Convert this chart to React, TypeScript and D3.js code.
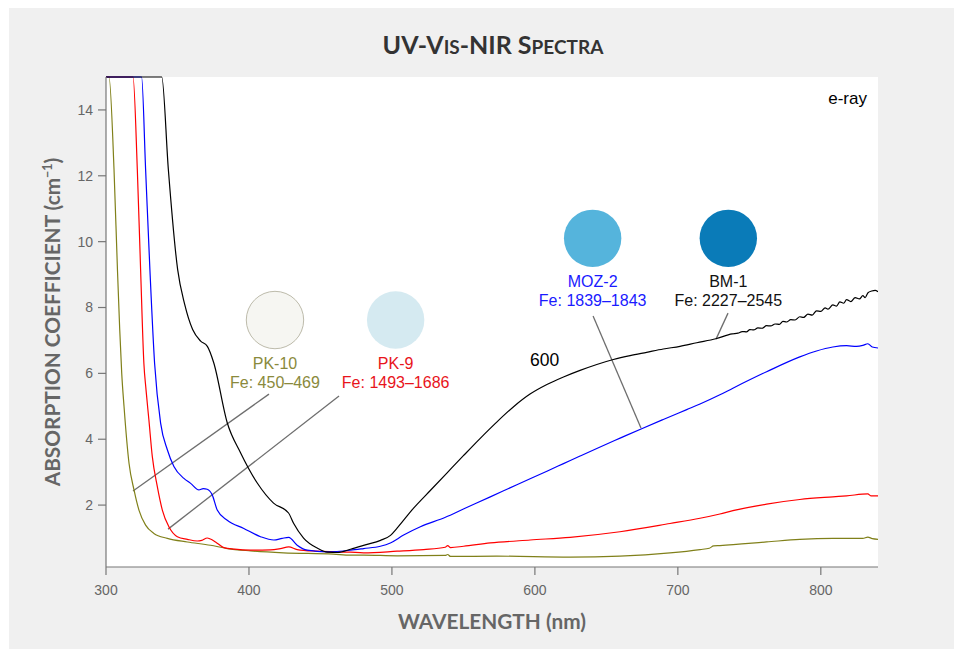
import React from "react";
import * as d3 from "d3";

// ---------- DATA ----------
const xTicks = [300, 400, 500, 600, 700, 800];
const yTicks = [2, 4, 6, 8, 10, 12, 14];

// BM-1 (black)
const bm1: [number, number][] = [
  [300, 15], [339, 15], [343.6, 12.2], [350.1, 9.16], [355, 8.1], [360.6, 7.33], [366.2, 6.98],
  [370.9, 6.82], [375.3, 6.33], [384.8, 4.5], [394.1, 3.59], [405.8, 2.67], [417.2, 2.06],
  [427.7, 1.76], [431.2, 1.45], [438.2, 1.0], [448, 0.69], [455, 0.57], [462, 0.56], [471, 0.66],
  [482, 0.8], [492, 0.93], [499, 1.08], [503.6, 1.3], [515, 1.9], [527, 2.45], [538.6, 2.98],
  [550, 3.5], [561.6, 4.02], [573.3, 4.52], [584.9, 4.98], [596.6, 5.37], [608.4, 5.66], [620, 5.89],
  [631.6, 6.09], [643.3, 6.27], [654.9, 6.42], [666.6, 6.54], [678.2, 6.64], [689.8, 6.74],
  [701.5, 6.82], [713.2, 6.93], [726.6, 7.05], [738, 7.2], [742, 7.22], [745, 7.27], [748, 7.26],
  [750.4, 7.33], [753, 7.32], [756, 7.38], [759, 7.37], [762, 7.45], [765, 7.44], [768, 7.5],
  [771, 7.49], [773.5, 7.58], [776, 7.56], [779, 7.63], [782, 7.62], [785.3, 7.72], [788, 7.7],
  [791, 7.8], [794, 7.77], [797, 7.9], [800, 7.88], [803, 7.99], [805, 7.95], [808.4, 8.08],
  [811, 8.04], [813.3, 8.17], [816, 8.13], [818, 8.24], [821, 8.18], [824, 8.3], [827, 8.26],
  [829.4, 8.36], [831, 8.3], [833, 8.45], [835.6, 8.5], [838, 8.52], [840, 8.48],
];

// MOZ-2 (blue)
const moz2: [number, number][] = [
  [300, 15], [324.9, 15], [327.7, 12.2], [330.7, 9.16], [334, 6.3], [338.2, 4.49], [342.9, 3.68],
  [347.5, 3.17], [354.5, 2.81], [359.2, 2.66], [365, 2.46], [368, 2.5], [370.8, 2.48], [374.3, 2.31],
  [377.8, 1.85], [384.8, 1.54], [396.4, 1.29], [408.1, 1.04], [417.4, 0.94], [423.2, 0.99],
  [427.8, 1.02], [433.7, 0.78], [440.7, 0.63], [454.7, 0.58], [471, 0.63], [480.2, 0.68],
  [491.9, 0.75], [498.9, 0.85], [508.2, 1.09], [519.9, 1.34], [537.4, 1.63], [550, 1.88],
  [568.8, 2.25], [587.4, 2.62], [608.4, 3.03], [620, 3.26], [631.6, 3.49], [643.3, 3.72],
  [660, 4.04], [674.7, 4.32], [689.8, 4.6], [706.2, 4.9], [715.5, 5.07], [729.4, 5.35],
  [738.5, 5.55], [762.1, 6.05], [785.3, 6.5], [797, 6.68], [808.4, 6.8], [818, 6.84], [825, 6.82],
  [829.4, 6.85], [832.9, 6.9], [836, 6.8], [840, 6.77],
];

// PK-9 (red)
const pk9: [number, number][] = [
  [300, 15], [318.9, 15], [321.9, 12.2], [324.2, 9.16], [326.5, 6.3], [328, 5.5], [330, 4.59],
  [332.4, 3.47], [335.9, 2.56], [339.4, 1.85], [344, 1.34], [349.9, 1.04], [356.9, 0.96],
  [363.9, 0.91], [367, 0.93], [370.8, 1.0], [373, 0.97], [376.6, 0.88], [382.4, 0.71], [390, 0.66],
  [401.1, 0.63], [415, 0.64], [422, 0.68], [427.8, 0.73], [433.7, 0.65], [447.7, 0.6], [471, 0.57],
  [480.2, 0.55], [503.6, 0.6], [522.2, 0.65], [537.3, 0.72], [539, 0.77], [541, 0.71],
  [550.1, 0.75], [568.8, 0.85], [596.7, 0.94], [624.6, 1.02], [659.5, 1.19], [694.5, 1.44],
  [715.5, 1.6], [729.4, 1.73], [738.5, 1.83], [762.1, 2.03], [785.3, 2.17], [808.4, 2.25],
  [818, 2.28], [832.9, 2.34], [835, 2.28], [840, 2.28],
];

// PK-10 (olive)
const pk10: [number, number][] = [
  [300, 15], [302.1, 15], [305.6, 12.2], [308, 9.16], [309.6, 7.33], [311, 6.0], [312.6, 5.0],
  [316.1, 3.27], [319.6, 2.46], [323.1, 1.84], [327.7, 1.39], [333.5, 1.14], [342.9, 0.99],
  [356.9, 0.88], [373.1, 0.78], [384.8, 0.68], [401.1, 0.61], [424.1, 0.55], [459.1, 0.51],
  [471, 0.48], [480.2, 0.48], [503.6, 0.46], [537.3, 0.47], [539, 0.5], [541, 0.44],
  [573.4, 0.45], [624.6, 0.42], [659.5, 0.45], [694.5, 0.55], [715.5, 0.65], [722, 0.69],
  [725, 0.76], [729.4, 0.77], [762.1, 0.88], [785.3, 0.96], [808.4, 0.99], [829.4, 0.99],
  [832.9, 1.03], [836, 0.98], [840, 0.96],
];

const seriesNames = ["PK-10", "PK-9", "MOZ-2", "BM-1"];
const seriesFe = ["Fe: 450–469", "Fe: 1493–1686", "Fe: 1839–1843", "Fe: 2227–2545"];
const seriesData = [pk10, pk9, moz2, bm1];
const seriesLine = ["#80801a", "#ff0000", "#0000ff", "#000000"];
const seriesText = ["#8a8a3c", "#e8141b", "#1a1aff", "#111111"];
const swatchFill = ["#f6f6f2", "#d5eaf1", "#55b4dc", "#0a7bb8"];
const swatchStroke = ["#bdbbab", "none", "none", "none"];
// swatch centres (data units)
const swatchPos: [number, number][] = [[418.2, 7.62], [502.6, 7.62], [640.4, 10.1], [735.3, 10.1]];
// leader lines (data units): from label to curve
const leaderFrom: [number, number][] = [[414.0, 5.37], [463.0, 5.31], [640.7, 7.74], [735.1, 7.83]];
const leaderTo: [number, number][] = [[318.9, 2.43], [343.4, 1.27], [674.2, 4.34], [726.7, 7.04]];

const noteText = ["600", "e-ray"];
const notePos: [number, number][] = [[596.6, 6.23], [832.3, 14.18]];

// ---------- LAYOUT ----------
const W = 954, H = 649;
const M = { left: 106, right: 878, top: 77, bottom: 567 };
const labelFont = "'Liberation Sans', Arial, sans-serif";
const titleFont = "Lato, 'Open Sans', sans-serif";

export default function App() {
  const x = d3.scaleLinear().domain([300, 840]).range([M.left, M.right]);
  const y = d3.scaleLinear().domain([0.12, 15]).range([M.bottom, M.top]);
  const line = d3
    .line<[number, number]>()
    .x((d) => x(d[0]))
    .y((d) => y(Math.min(15, d[1])))
    .curve(d3.curveMonotoneX);

  return (
    <svg
      width={W}
      height={H}
      style={{ position: "absolute", left: 0, top: 0, display: "block" }}
    >
      <rect x={9} y={8} width={W - 9} height={H - 8} fill="#f0f0f0" />
      <rect x={M.left} y={M.top} width={M.right - M.left} height={M.bottom - M.top} fill="#ffffff" />

      {/* title */}
      <text
        x={493}
        y={54}
        textAnchor="middle"
        fontFamily={titleFont}
        fontWeight={700}
        fontSize={25}
        fill="#333333"
      >
        <tspan>UV-V</tspan>
        <tspan fontSize={19}>IS</tspan>
        <tspan>-NIR S</tspan>
        <tspan fontSize={19}>PECTRA</tspan>
      </text>

      <defs>
        <clipPath id="plotclip">
          <rect x={M.left} y={M.top - 1} width={M.right - M.left} height={M.bottom - M.top + 1} />
        </clipPath>
      </defs>

      {/* leader lines */}
      {leaderFrom.map((p, i) => (
        <line
          key={"ld" + i}
          x1={x(p[0])}
          y1={y(p[1])}
          x2={x(leaderTo[i][0])}
          y2={y(leaderTo[i][1])}
          stroke="#6e6e6e"
          strokeWidth={1.3}
        />
      ))}

      {/* series */}
      <g clipPath="url(#plotclip)">
        {seriesData.map((d, i) => (
          <path key={"s" + i} d={line(d) || ""} fill="none" stroke={seriesLine[i]} strokeWidth={1.2} />
        ))}
      </g>

      {/* axes */}
      <g stroke="#777777" strokeWidth={1.2}>
        <line x1={M.left} y1={M.top} x2={M.left} y2={M.bottom} />
        <line x1={M.left} y1={M.bottom} x2={M.right} y2={M.bottom} />
        {yTicks.map((t) => (
          <line key={"yt" + t} x1={M.left - 8} x2={M.left} y1={y(t)} y2={y(t)} />
        ))}
        {xTicks.map((t) => (
          <line key={"xt" + t} x1={x(t)} x2={x(t)} y1={M.bottom} y2={M.bottom + 8} />
        ))}
      </g>
      {yTicks.map((t) => (
        <text
          key={"yl" + t}
          x={M.left - 13}
          y={y(t)}
          dy="0.35em"
          textAnchor="end"
          fontFamily={labelFont}
          fontSize={14}
          fill="#666666"
        >
          {t}
        </text>
      ))}
      {xTicks.map((t) => (
        <text
          key={"xl" + t}
          x={x(t)}
          y={M.bottom + 23}
          dy="0.35em"
          textAnchor="middle"
          fontFamily={labelFont}
          fontSize={14}
          fill="#666666"
        >
          {t}
        </text>
      ))}

      {/* axis titles */}
      <text
        x={492}
        y={629}
        textAnchor="middle"
        fontFamily={titleFont}
        fontWeight={700}
        fontSize={20.8}
        fill="#666666"
      >
        WAVELENGTH (nm)
      </text>
      <text
        transform={`translate(60,322) rotate(-90)`}
        textAnchor="middle"
        fontFamily={titleFont}
        fontWeight={700}
        fontSize={20.8}
        fill="#666666"
      >
        ABSORPTION COEFFICIENT (cm
        <tspan fontSize={12.5} dy={-8}>
          −1
        </tspan>
        <tspan dy={8}>)</tspan>
      </text>

      {/* swatches and labels */}
      {swatchPos.map((p, i) => (
        <g key={"sw" + i}>
          <circle
            cx={x(p[0])}
            cy={y(p[1])}
            r={28.7}
            fill={swatchFill[i]}
            stroke={swatchStroke[i]}
            strokeWidth={1}
          />
          <text
            x={x(p[0])}
            y={y(p[1]) + 48.5}
            textAnchor="middle"
            fontFamily={labelFont}
            fontSize={16}
            fill={seriesText[i]}
          >
            {seriesNames[i]}
          </text>
          <text
            x={x(p[0])}
            y={y(p[1]) + 68}
            textAnchor="middle"
            fontFamily={labelFont}
            fontSize={16}
            fill={seriesText[i]}
          >
            {seriesFe[i]}
          </text>
        </g>
      ))}

      {/* notes */}
      <text
        x={x(notePos[0][0])}
        y={y(notePos[0][1])}
        fontFamily={labelFont}
        fontSize={17.5}
        fill="#000000"
      >
        {noteText[0]}
      </text>
      <text
        x={x(notePos[1][0])}
        y={y(notePos[1][1])}
        textAnchor="end"
        fontFamily={labelFont}
        fontSize={17}
        fill="#000000"
      >
        {noteText[1]}
      </text>
    </svg>
  );
}
